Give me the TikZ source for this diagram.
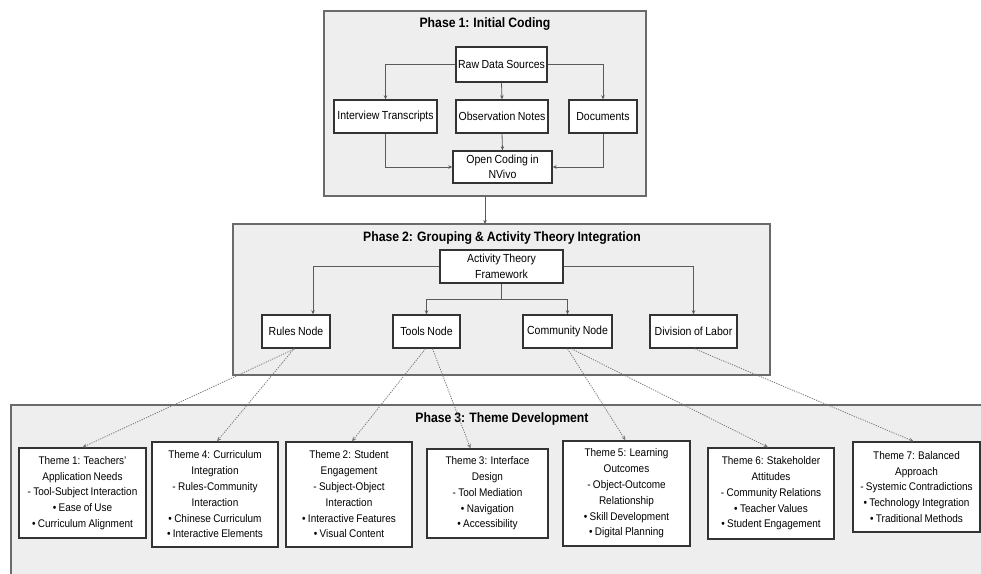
\documentclass[tikz,border=0pt]{standalone}
\usepackage{fontspec}
\setmainfont{Liberation Sans}[FakeStretch=0.9, WordSpace=0.85]
\usetikzlibrary{arrows.meta}
\definecolor{phasefill}{HTML}{EEEEEE}
\definecolor{phaseline}{HTML}{6A6A6A}
\definecolor{boxline}{HTML}{333333}
\definecolor{connline}{HTML}{5A5A5A}
\definecolor{dotline}{HTML}{777777}
\begin{document}
\begin{tikzpicture}[x=1pt,y=-1pt,
  phase/.style={draw=phaseline, fill=phasefill, line width=1.4pt},
  phasetitle/.style={font=\fontsize{13.6}{15}\selectfont\bfseries, inner sep=0pt},
  box/.style={draw=boxline, fill=white, line width=1.4pt, inner sep=0pt, align=center,
    font=\fontsize{11.7}{15}\selectfont},
  theme/.style={box, font=\fontsize{11.1}{15.8}\selectfont},
  conn/.style={draw=connline, line width=0.8pt, -{Stealth[length=4pt,width=3.5pt]}},
  dconn/.style={draw=dotline, line width=0.8pt, dash pattern=on 1.2pt off 1.2pt,
    -{Stealth[open,length=4.5pt,width=4pt]}}
]
\useasboundingbox (0,0) rectangle (981,573);
\clip (0,0) rectangle (981,573);
\fill[white] (0,0) rectangle (981,573);

% ---------------- Phase 1 ----------------
\node[phase, minimum width=322pt, minimum height=185pt, inner sep=0pt] (p1) at (485,103.5) {};
\node[phasetitle] (p1t) at (485,24) {Phase 1: Initial Coding};
\node[box, minimum width=91pt, minimum height=35pt] (raw) at (501.5,64.5) {Raw Data Sources};
\node[box, minimum width=103pt, minimum height=33pt] (interview) at (385.5,116.5) {Interview Transcripts};
\node[box, minimum width=92pt, minimum height=33pt] (obs) at (502,116.5) {Observation Notes};
\node[box, minimum width=68pt, minimum height=33pt] (docs) at (603,116.5) {Documents};
\node[box, minimum width=99pt, minimum height=32pt] (open) at (502.5,167) {Open Coding in\\NVivo};

\draw[conn] (raw.west) -| (interview.north);
\draw[conn] (raw.east) -| (docs.north);
\draw[conn] (raw.south) -- (obs.north);
\draw[conn] (obs.south) -- (open.north);
\draw[conn] (interview.south) |- (open.west);
\draw[conn] (docs.south) |- (open.east);

% ---------------- Phase 2 ----------------
\node[phase, minimum width=537pt, minimum height=151pt, inner sep=0pt] (p2) at (501.5,299.5) {};
\coordinate (p2top) at (485,224);
\draw[conn] (p1.south -| p2top) -- (p2top);
\node[phasetitle] (p2t) at (502,238) {Phase 2: Grouping \& Activity Theory Integration};
\node[box, minimum width=123pt, minimum height=33pt, font=\fontsize{11.7}{16.5}\selectfont] (atf) at (501.5,266.5) {Activity Theory\\Framework};
\node[box, minimum width=68pt, minimum height=33pt] (rules) at (296,331.5) {Rules Node};
\node[box, minimum width=67pt, minimum height=33pt] (tools) at (426.5,331.5) {Tools Node};
\node[box, minimum width=89pt, minimum height=33pt] (comm) at (567.5,331.5) {Community Node};
\node[box, minimum width=87pt, minimum height=33pt] (div) at (693.5,331.5) {Division of Labor};

\draw[conn] (atf.west) -| ([xshift=17pt]rules.north);
\draw[conn] (atf.south) -- ++(0,16) -| (tools.north);
\draw[conn] (atf.south) -- ++(0,16) -| (comm.north);
\draw[conn] (atf.east) -| (div.north);

% ---------------- Phase 3 ----------------
\draw[phase] (11,405) rectangle (995,600);
\node[phasetitle] (p3t) at (502,419) {Phase 3: Theme Development};

\node[theme, minimum width=127pt, minimum height=90pt] (t1) at (82.5,493) {Theme 1: Teachers'\\Application Needs\\- Tool-Subject Interaction\\• Ease of Use\\• Curriculum Alignment};
\node[theme, minimum width=126pt, minimum height=105pt] (t4) at (215,494.5) {Theme 4: Curriculum\\Integration\\- Rules-Community\\Interaction\\• Chinese Curriculum\\• Interactive Elements};
\node[theme, minimum width=126pt, minimum height=105pt] (t2) at (349,494.5) {Theme 2: Student\\Engagement\\- Subject-Object\\Interaction\\• Interactive Features\\• Visual Content};
\node[theme, minimum width=121pt, minimum height=89pt] (t3) at (487.5,493.5) {Theme 3: Interface\\Design\\- Tool Mediation\\• Navigation\\• Accessibility};
\node[theme, minimum width=127pt, minimum height=105pt] (t5) at (626.5,493.5) {Theme 5: Learning\\Outcomes\\- Object-Outcome\\Relationship\\• Skill Development\\• Digital Planning};
\node[theme, minimum width=126pt, minimum height=91pt] (t6) at (771,493.5) {Theme 6: Stakeholder\\Attitudes\\- Community Relations\\• Teacher Values\\• Student Engagement};
\node[theme, minimum width=127pt, minimum height=90pt] (t7) at (916.5,487) {Theme 7: Balanced\\Approach\\- Systemic Contradictions\\• Technology Integration\\• Traditional Methods};

\draw[dconn] ([xshift=-1pt]rules.south) -- (t1.north);
\draw[dconn] ([xshift=-2pt]rules.south) -- ([xshift=2pt]t4.north);
\draw[dconn] ([xshift=-1pt]tools.south) -- ([xshift=3pt]t2.north);
\draw[dconn] ([xshift=6pt]tools.south) -- ([xshift=-17pt]t3.north);
\draw[dconn] (comm.south) -- ([xshift=-1pt]t5.north);
\draw[dconn] ([xshift=4pt]comm.south) -- ([xshift=-3pt]t6.north);
\draw[dconn] ([xshift=1pt]div.south) -- ([xshift=-3pt]t7.north);
\end{tikzpicture}
\end{document}
